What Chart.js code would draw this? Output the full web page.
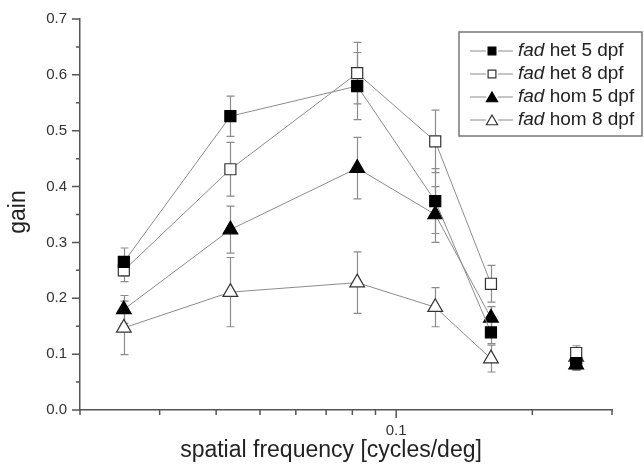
<!DOCTYPE html>
<html>
<head>
<meta charset="utf-8">
<script src="https://cdn.jsdelivr.net/npm/chart.js@4/dist/chart.umd.min.js"></script>
<style>
  html, body { margin: 0; background: #fff; }
  #wrap { width: 644px; height: 471px; }
</style>
</head>
<body>
<div id="wrap"><canvas id="chart"></canvas></div>
<script>
// ==============================
//  DATA
// ==============================
const FREQ = [0.025, 0.043, 0.082, 0.122, 0.162, 0.25];

const HET5     = [0.265, 0.526, 0.580, 0.374, 0.139, 0.084];
const HET5_ERR = [0.025, 0.036, 0.060, 0.058, 0.020, 0.012];
const HET8     = [0.250, 0.431, 0.603, 0.481, 0.226, 0.102];
const HET8_ERR = [0.020, 0.048, 0.055, 0.056, 0.033, 0.013];
const HOM5     = [0.180, 0.323, 0.433, 0.350, 0.165, 0.081];
const HOM5_ERR = [0.025, 0.042, 0.055, 0.050, 0.020, 0.010];
const HOM8     = [0.147, 0.211, 0.228, 0.184, 0.092, 0.095];
const HOM8_ERR = [0.048, 0.062, 0.055, 0.035, 0.024, 0.010];

const LABELS = ['fad het 5 dpf', 'fad het 8 dpf', 'fad hom 5 dpf', 'fad hom 8 dpf'];
const VALUES = [HET5, HET8, HOM5, HOM8];
const ERRORS = [HET5_ERR, HET8_ERR, HOM5_ERR, HOM8_ERR];

const Y_TICKS  = [0, 0.1, 0.2, 0.3, 0.4, 0.5, 0.6, 0.7];
const X_MAJOR  = [0.1];
const X_MINOR  = [0.02, 0.03, 0.04, 0.05, 0.06, 0.07, 0.08, 0.09, 0.2, 0.3];
const CONNECTED = 5;   // last point is not joined to the curve

// ==============================
//  STYLE
// ==============================
const FONT       = '"Liberation Sans", Arial, sans-serif';
const LINE_COLOR = '#8c8c8c';
const AXIS_COLOR = '#555';
const TEXT_COLOR = '#222';
const STYLES = [
  { shape: 'rect',     filled: true  },
  { shape: 'rect',     filled: false },
  { shape: 'triangle', filled: true  },
  { shape: 'triangle', filled: false },
];

// ==============================
//  HELPERS
// ==============================
function marker(ctx, shape, filled, x, y, r) {
  ctx.save();
  ctx.beginPath();
  if (shape === 'rect') {
    const s = r * Math.SQRT1_2;
    ctx.rect(x - s, y - s, 2 * s, 2 * s);
  } else {
    ctx.moveTo(x, y - r);
    ctx.lineTo(x + r * 0.866, y + r / 2);
    ctx.lineTo(x - r * 0.866, y + r / 2);
    ctx.closePath();
  }
  ctx.fillStyle = filled ? '#000' : '#fff';
  ctx.fill();
  ctx.strokeStyle = filled ? '#000' : '#333';
  ctx.lineWidth = 1.2;
  ctx.stroke();
  ctx.restore();
}

const extras = {
  id: 'extras',
  beforeDatasetsDraw(chart) {
    const { ctx, scales: { x, y } } = chart;
    ctx.save();
    ctx.strokeStyle = LINE_COLOR;
    ctx.lineWidth = 1.2;
    VALUES.forEach((vals, i) => {
      vals.forEach((v, j) => {
        const px = Math.round(x.getPixelForValue(FREQ[j])) + 0.5;
        const top = y.getPixelForValue(v + ERRORS[i][j]);
        const bot = y.getPixelForValue(v - ERRORS[i][j]);
        ctx.beginPath();
        ctx.moveTo(px, top); ctx.lineTo(px, bot);
        ctx.moveTo(px - 4, top); ctx.lineTo(px + 4, top);
        ctx.moveTo(px - 4, bot); ctx.lineTo(px + 4, bot);
        ctx.stroke();
      });
    });
    ctx.restore();
  },
  afterDraw(chart) {
    const { ctx, scales: { x, y }, chartArea: a } = chart;
    ctx.save();

    // tick marks
    ctx.strokeStyle = AXIS_COLOR;
    ctx.lineWidth = 1.5;
    ctx.beginPath();
    Y_TICKS.forEach(v => {
      const py = y.getPixelForValue(v);
      ctx.moveTo(a.left, py); ctx.lineTo(a.left - 8, py);
      if (v < 0.7) {
        const pm = y.getPixelForValue(v + 0.05);
        ctx.moveTo(a.left, pm); ctx.lineTo(a.left - 4, pm);
      }
    });
    X_MAJOR.forEach(v => {
      const px = x.getPixelForValue(v);
      ctx.moveTo(px, a.bottom); ctx.lineTo(px, a.bottom + 8);
    });
    X_MINOR.forEach(v => {
      const px = x.getPixelForValue(v);
      ctx.moveTo(px, a.bottom); ctx.lineTo(px, a.bottom + 5);
    });
    ctx.stroke();

    // axis titles
    ctx.fillStyle = TEXT_COLOR;
    ctx.font = '23px ' + FONT;
    ctx.textAlign = 'center';
    ctx.textBaseline = 'alphabetic';
    ctx.fillText('spatial frequency [cycles/deg]', 331, 457);
    ctx.save();
    ctx.translate(25, 212);
    ctx.rotate(-Math.PI / 2);
    ctx.fillText('gain', 0, 0);
    ctx.restore();

    // legend
    ctx.fillStyle = '#fff';
    ctx.fillRect(459, 32, 183, 104);
    ctx.strokeStyle = '#777';
    ctx.lineWidth = 1.5;
    ctx.strokeRect(459, 32, 183, 104);
    LABELS.forEach((label, i) => {
      const ry = 51 + i * 23;
      ctx.strokeStyle = LINE_COLOR;
      ctx.lineWidth = 1;
      ctx.beginPath();
      ctx.moveTo(470, ry); ctx.lineTo(486, ry);
      ctx.moveTo(498, ry); ctx.lineTo(513, ry);
      ctx.stroke();
      const st = STYLES[i];
      marker(ctx, st.shape, st.filled, 492, st.shape === 'rect' ? ry : ry + 1.5, st.shape === 'rect' ? 5.5 : 6.5);
      const [first, ...rest] = label.split(' ');
      ctx.fillStyle = TEXT_COLOR;
      ctx.textAlign = 'left';
      ctx.textBaseline = 'middle';
      ctx.font = 'italic 19px ' + FONT;
      ctx.fillText(first, 518, ry);
      const w = ctx.measureText(first + ' ').width;
      ctx.font = '19px ' + FONT;
      ctx.fillText(rest.join(' '), 518 + w, ry);
    });
    ctx.restore();
  }
};

// ==============================
//  CHART
// ==============================
const datasets = LABELS.map((label, i) => ({
  label,
  data: FREQ.map((f, j) => ({ x: f, y: VALUES[i][j] })),
  borderColor: LINE_COLOR,
  borderWidth: 1,
  tension: 0,
  fill: false,
  pointStyle: STYLES[i].shape,
  pointRadius: STYLES[i].shape === 'rect' ? 7.8 : 8.5,
  pointBackgroundColor: STYLES[i].filled ? '#000' : '#fff',
  pointBorderColor: STYLES[i].filled ? '#000' : '#333',
  pointBorderWidth: 1.2,
  segment: {
    borderColor: c => c.p1DataIndex >= CONNECTED ? 'rgba(0,0,0,0)' : LINE_COLOR
  }
}));

new Chart(document.getElementById('chart'), {
  type: 'line',
  data: { datasets },
  options: {
    responsive: true,
    maintainAspectRatio: false,
    animation: false,
    devicePixelRatio: 1,
    layout: { padding: { top: 19, right: 32, left: 0, bottom: 0 } },
    plugins: { legend: { display: false }, tooltip: { enabled: false } },
    scales: {
      x: {
        type: 'logarithmic',
        min: 0.02,
        max: 0.3,
        afterFit: s => { s.height = 61; },
        afterBuildTicks: s => {
          s.ticks = [...X_MINOR, ...X_MAJOR].sort((p, q) => p - q).map(v => ({ value: v }));
        },
        grid: { display: false, drawTicks: true, tickLength: 8 },
        border: { display: true, color: AXIS_COLOR, width: 1.5 },
        ticks: {
          autoSkip: false,
          maxRotation: 0,
          padding: 4,
          color: '#333',
          font: { family: FONT, size: 15 },
          callback: v => X_MAJOR.includes(v) ? String(v) : ''
        }
      },
      y: {
        min: 0,
        max: 0.7,
        afterFit: s => { s.width = 80; },
        grid: { display: false, drawTicks: true, tickLength: 8 },
        border: { display: true, color: AXIS_COLOR, width: 1.5 },
        ticks: {
          stepSize: 0.1,
          padding: 5,
          color: '#333',
          font: { family: FONT, size: 15 },
          callback: v => v.toFixed(1)
        }
      }
    }
  },
  plugins: [extras]
});
</script>
</body>
</html>
